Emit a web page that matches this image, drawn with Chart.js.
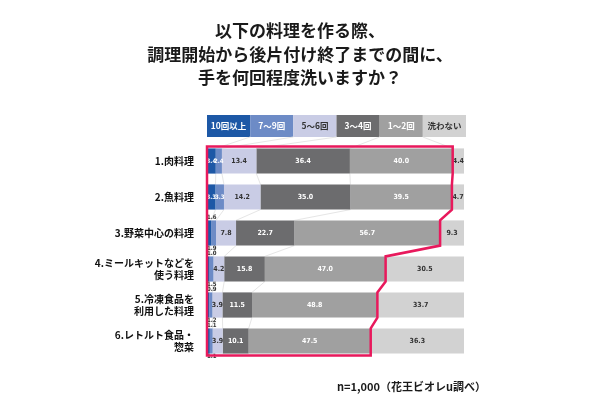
<!DOCTYPE html>
<html><head><meta charset="utf-8">
<script src="https://cdn.jsdelivr.net/npm/chart.js@4/dist/chart.umd.min.js"></script>
<style>html,body{margin:0;padding:0;background:#fff}#wrap{width:600px;height:400px}</style>
</head><body><div id="wrap"><canvas id="c" width="600" height="400"></canvas></div>
<script>
const titleLines = ['以下の料理を作る際、', '調理開始から後片付け終了までの間に、', '手を何回程度洗いますか？'];
const footnote = 'n=1,000（花王ビオレu調べ）';
const categories = [['1.肉料理'], ['2.魚料理'], ['3.野菜中心の料理'], ['4.ミールキットなどを', '使う料理'], ['5.冷凍食品を', '利用した料理'], ['6.レトルト食品・', '惣菜']];
const seriesNames = ['10回以上', '7～9回', '5～6回', '3～4回', '1～2回', '洗わない'];
const s10plus = [3.4, 3.3, 1.6, 1.0, 0.9, 1.1];
const s7to9 = [2.4, 3.3, 1.9, 1.5, 1.2, 1.1];
const s5to6 = [13.4, 14.2, 7.8, 4.2, 3.9, 3.9];
const s3to4 = [36.4, 35.0, 22.7, 15.8, 11.5, 10.1];
const s1to2 = [40.0, 39.5, 56.7, 47.0, 48.8, 47.5];
const sNone = [4.4, 4.7, 9.3, 30.5, 33.7, 36.3];

const seriesData = [s10plus, s7to9, s5to6, s3to4, s1to2, sNone];
const colors = ['#1d58a6', '#6d8bc6', '#c9cce5', '#6c6c6e', '#a0a0a0', '#d2d2d2'];
const textColors = ['#ffffff', '#ffffff', '#333333', '#ffffff', '#ffffff', '#333333'];
const FONT = '"Noto Sans CJK JP", "Noto Sans", sans-serif';
const NUMFONT = '"Liberation Sans Narrow", "DejaVu Sans Condensed", "Noto Sans", sans-serif';

const overlay = {
  id: 'overlay',
  beforeDraw(chart) {
    const ctx = chart.ctx;
    ctx.save();
    ctx.fillStyle = '#fff';
    ctx.fillRect(0, 0, chart.width, chart.height);
    ctx.fillStyle = '#1a1a1a';
    ctx.font = 'bold 17px ' + FONT;
    ctx.textAlign = 'center';
    ctx.textBaseline = 'middle';
    const ty = [31, 55, 78];
    titleLines.forEach((t, i) => ctx.fillText(t, 300, ty[i]));
    ctx.font = 'bold 11px ' + FONT;
    ctx.textAlign = 'left';
    ctx.fillText(footnote, 337, 387);
    const xs = chart.scales.x;
    const left = xs.left, w = (xs.right - xs.left + 2) / seriesNames.length;
    const top = 115, h = 22;
    ctx.font = 'bold 8.5px ' + FONT;
    ctx.textAlign = 'center';
    seriesNames.forEach((n, i) => {
      ctx.fillStyle = colors[i];
      ctx.fillRect(left + i * w, top, w, h);
      ctx.fillStyle = textColors[i];
      ctx.fillText(n, left + i * w + w / 2, top + h / 2);
    });
    ctx.strokeStyle = '#e6e6e6';
    ctx.lineWidth = 1;
    const metas = seriesData.map((_, i) => chart.getDatasetMeta(i));
    for (let i = 0; i < seriesData.length - 1; i++) {
      const b0 = metas[i].data[0];
      ctx.beginPath();
      ctx.moveTo(left + (i + 1) * w, top + h);
      ctx.lineTo(b0.x, b0.y - b0.height / 2);
      ctx.stroke();
      for (let j = 0; j < categories.length - 1; j++) {
        const a = metas[i].data[j], b = metas[i].data[j + 1];
        ctx.beginPath();
        ctx.moveTo(a.x, a.y + a.height / 2);
        ctx.lineTo(b.x, b.y - b.height / 2);
        ctx.stroke();
      }
    }
    ctx.restore();
  },
  afterDatasetsDraw(chart) {
    const ctx = chart.ctx;
    ctx.save();
    ctx.textBaseline = 'middle';
    seriesData.forEach((arr, i) => {
      const meta = chart.getDatasetMeta(i);
      meta.data.forEach((bar, j) => {
        const v = arr[j].toFixed(1);
        if (i < 2 && j >= 2) {
          ctx.font = 'bold 6px ' + NUMFONT;
          ctx.fillStyle = '#333';
          ctx.textAlign = 'left';
          const yy = i === 0 ? bar.y - bar.height / 2 - 3 : bar.y + bar.height / 2 + 3;
          ctx.fillText(v, chart.scales.x.left, yy);
        } else {
          ctx.font = (i < 2 ? 'bold 6px ' : 'bold 7px ') + NUMFONT;
          ctx.fillStyle = textColors[i];
          ctx.textAlign = 'center';
          ctx.fillText(v, (bar.x + bar.base) / 2, bar.y);
        }
      });
    });
    const xs = chart.scales.x;
    const m4 = chart.getDatasetMeta(4);
    ctx.strokeStyle = '#e8195c';
    ctx.lineWidth = 2.5;
    ctx.lineJoin = 'miter';
    ctx.beginPath();
    const first = m4.data[0];
    const topY = first.y - first.height / 2 - 2;
    ctx.moveTo(xs.left, topY);
    m4.data.forEach((bar, j) => {
      const yt = j === 0 ? topY : bar.y - bar.height / 2;
      const yb = j === m4.data.length - 1 ? bar.y + bar.height / 2 + 2 : bar.y + bar.height / 2;
      ctx.lineTo(bar.x, yt);
      ctx.lineTo(bar.x, yb);
    });
    const last = m4.data[m4.data.length - 1];
    ctx.lineTo(xs.left, last.y + last.height / 2 + 2);
    ctx.closePath();
    ctx.stroke();
    ctx.restore();
  }
};

new Chart(document.getElementById('c'), {
  type: 'bar',
  data: {
    labels: categories,
    datasets: seriesNames.map((n, i) => ({
      label: n,
      data: seriesData[i],
      backgroundColor: colors[i],
      borderWidth: 0,
      barPercentage: 0.7,
      categoryPercentage: 1.0
    }))
  },
  options: {
    indexAxis: 'y',
    responsive: false,
    animation: false,
    layout: { padding: { left: 0, right: 136, top: 143, bottom: 41 } },
    plugins: { legend: { display: false }, tooltip: { enabled: false }, title: { display: false } },
    scales: {
      x: { stacked: true, min: 0, max: 100, display: false },
      y: {
        stacked: true,
        grid: { display: false },
        border: { display: false },
        ticks: { color: '#111', font: { family: FONT, size: 10, weight: 'bold', lineHeight: 1.15 }, padding: 5 },
        afterFit(scale) { scale.width = 207; }
      }
    }
  },
  plugins: [overlay]
});
</script>
</body></html>
